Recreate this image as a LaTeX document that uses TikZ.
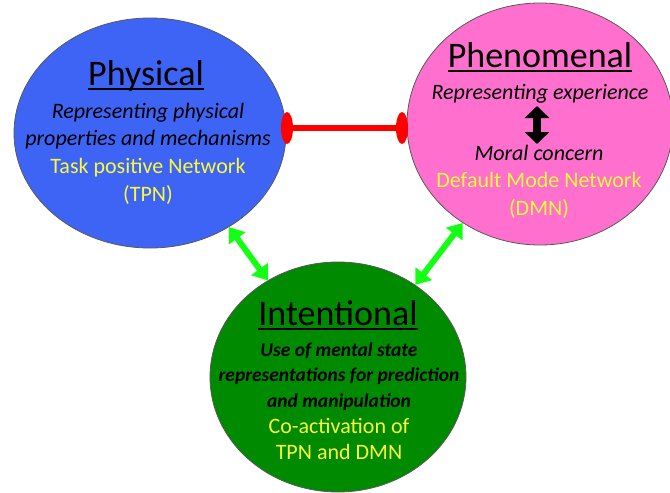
\documentclass[tikz,border=0pt]{standalone}
\usepackage{fontspec}
\setmainfont{Carlito}
\usetikzlibrary{arrows.meta,shapes.geometric}
\definecolor{physblue}{RGB}{62,100,246}
\definecolor{phenpink}{RGB}{255,112,206}
\definecolor{intgreen}{RGB}{0,138,0}
\definecolor{txtyellow}{RGB}{250,250,60}
\definecolor{linkgreen}{RGB}{20,255,20}
\definecolor{barred}{RGB}{255,0,0}
\newcommand\myul[1]{\setbox0\hbox{#1}\rlap{\rule[-5pt]{\wd0}{1.8pt}}\box0}
\tikzset{
  region/.style={ellipse, draw=black!65, line width=0.8pt, inner sep=0pt},
  titletext/.style={anchor=base, inner sep=0pt, font=\fontsize{36}{40}\selectfont},
  bodytext/.style={anchor=base, inner sep=0pt, align=center, font=\fontsize{22}{27.8}\selectfont},
  link/.style={draw=linkgreen, line width=6pt, {Triangle[length=14pt,width=20pt]}-{Triangle[length=14pt,width=20pt]}},
  cap end/.style={ellipse, fill=barred, minimum width=12pt, minimum height=32pt, inner sep=0pt},
}
\begin{document}
\begin{tikzpicture}[x=1pt,y=-1pt]
\useasboundingbox (0,0) rectangle (670,493);
% regions
\node[region, fill=physblue, minimum width=272pt, minimum height=230pt] (phys) at (150,133) {};
\node[region, fill=phenpink, minimum width=266pt, minimum height=242pt] (phen) at (540,124) {};
\node[region, fill=intgreen, minimum width=256pt, minimum height=230pt] (int) at (338,377) {};
% physical text
\node[titletext] (physT) at (146,85) {\myul{Physical}};
\node[bodytext] (physB) at (148,201.5) {\itshape Representing physical\\ \itshape properties and mechanisms\\ \color{txtyellow}Task positive Network\\ \color{txtyellow}(TPN)};
% phenomenal text
\node[titletext] (phenT) at (540,67) {\myul{Phenomenal}};
\node[bodytext] (phenA) at (540,99) {\itshape Representing experience};
\node[bodytext] (phenB) at (539,215.6) {\itshape Moral concern\\ \color{txtyellow}Default Mode Network\\ \color{txtyellow}(DMN)};
\coordinate (arrTop) at (537,106);
\coordinate (arrBot) at (537,144);
\draw[line width=8pt, {Triangle[length=12pt,width=24pt]}-{Triangle[length=12pt,width=24pt]}] (arrTop) -- (arrBot);
% intentional text
\node[titletext] (intT) at (338,325) {\myul{Intentional}};
\node[bodytext, font=\fontsize{19.5}{25.8}\selectfont] (intB) at (339,459.2) {\bfseries\itshape Use of mental state\\ \bfseries\itshape representations for prediction\\ \bfseries\itshape and manipulation\\ {\fontsize{22}{25.8}\selectfont\color{txtyellow}Co-activation of}\\ {\fontsize{22}{25.8}\selectfont\color{txtyellow}TPN and DMN}};
% red bar between physical and phenomenal
\node[cap end] (capL) at (287,128) {};
\node[cap end] (capR) at (402,128) {};
\draw[barred, line width=6pt] (capL.center) -- (capR.center);
% green links
\draw[link] (phys.-50) -- (int.126);
\draw[link] (phen.-128) -- (int.50);
\end{tikzpicture}
\end{document}
